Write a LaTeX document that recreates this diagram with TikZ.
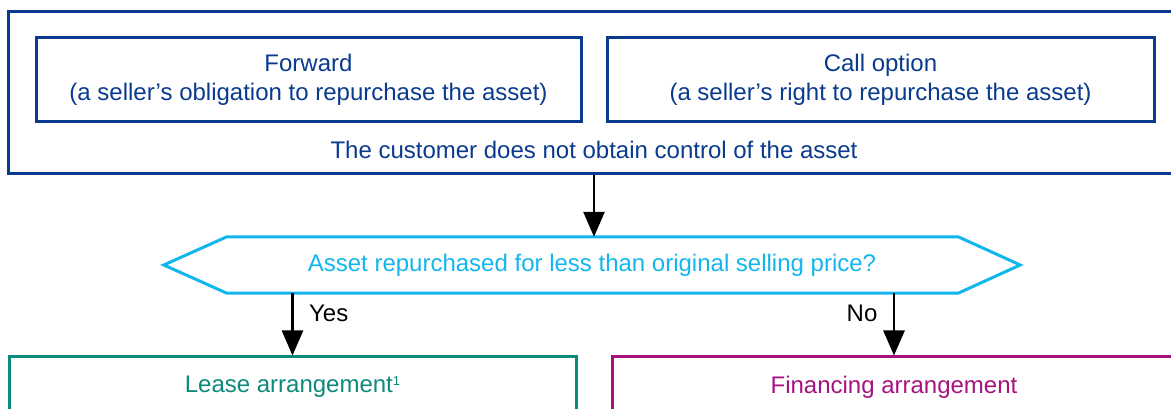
\documentclass[tikz,border=0pt]{standalone}
\usepackage{fontspec}
\setmainfont{Liberation Sans}
\usetikzlibrary{arrows.meta,calc}

\definecolor{frameblue}{HTML}{0A3A8E}
\definecolor{questcyan}{HTML}{12B6EE}
\definecolor{leasegreen}{HTML}{0C8A7A}
\definecolor{finmagenta}{HTML}{A6137F}

\newcommand{\footmark}[1]{\raisebox{0.55ex}{\fontsize{13}{13}\selectfont #1}}

\begin{document}
\begin{tikzpicture}[x=1pt, y=1pt,
    font=\fontsize{24}{29}\selectfont,
    box/.style={draw, line width=3pt, align=center, inner sep=0pt},
    arr/.style={-{Triangle[length=25pt,width=21pt]}, line width=2.6pt, black}]

\useasboundingbox (0,0) rectangle (1171,409);
\clip (0,0) rectangle (1171,409);

% =====================
% Outer frame
% =====================
\node[box, frameblue, minimum width=1172, minimum height=162] (outer) at (594,316) {};

\node[box, frameblue, minimum width=545, minimum height=84] (fwd)
    at (308.5,329)
    {Forward\\(a seller’s obligation to repurchase the asset)};

\node[box, frameblue, minimum width=547, minimum height=84] (call)
    at (880.5,329)
    {Call option\\(a seller’s right to repurchase the asset)};

\node[frameblue] (ctrl)
    at (594,259)
    {The customer does not obtain control of the asset};

% =====================
% Question
% =====================
\node[questcyan, minimum width=856, minimum height=56, inner sep=0pt] (q)
    at (592,144)
    {Asset repurchased for less than original selling price?};

\draw[questcyan, line width=3pt]
    (q.west) -- ($(q.north west)+(63,0)$) -- ($(q.north east)+(-62,0)$)
    -- (q.east) -- ($(q.south east)+(-62,0)$) -- ($(q.south west)+(63,0)$)
    -- cycle;

% =====================
% Outcomes
% =====================
\node[box, leasegreen, minimum width=567, minimum height=60] (lease)
    at (292.5,22)
    {Lease arrangement\footmark{1}};

\node[box, finmagenta, minimum width=564, minimum height=60] (fin)
    at (894,22)
    {Financing arrangement};

% =====================
% Arrows
% =====================
\draw[arr] (outer.south) -- (outer.south |- q.north);
\draw[arr] (lease.north |- q.south) -- node[right=12pt, pos=0.33] {Yes} (lease.north);
\draw[arr] (fin.north |- q.south) -- node[left=12pt, pos=0.33] {No} (fin.north);

\end{tikzpicture}
\end{document}
